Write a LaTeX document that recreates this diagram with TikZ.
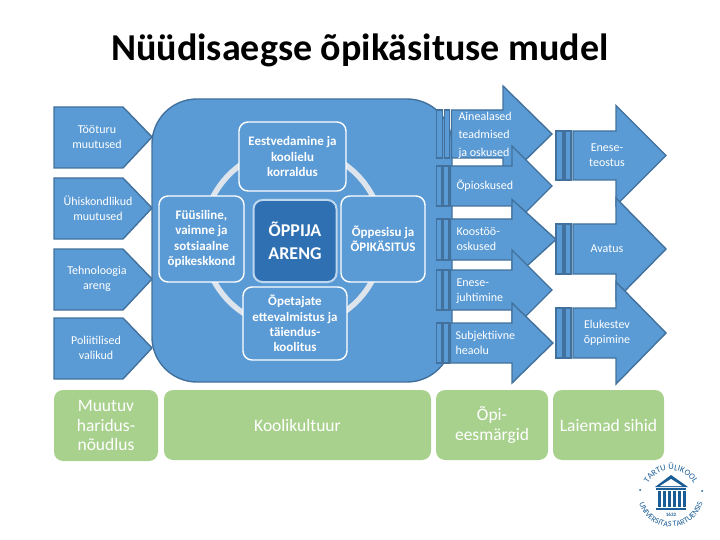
\documentclass[tikz,border=0pt]{standalone}
\usepackage{fontspec}
\setmainfont{Carlito}
\usepackage{xcolor}
\usetikzlibrary{decorations.text}
\definecolor{bodyblue}{RGB}{91, 155, 213}
\definecolor{edgeblue}{RGB}{65, 113, 156}
\definecolor{coreblue}{RGB}{46, 112, 178}
\definecolor{coreedge}{RGB}{189, 215, 238}
\definecolor{ringgray}{RGB}{222, 228, 236}
\definecolor{softgreen}{RGB}{169, 209, 142}
\definecolor{sealblue}{RGB}{26, 92, 150}

% arrow with two bars: bar space, x start, shaft top, shaft bottom, head x, head half height, tip x
\newcommand{\stripedarrow}[7][17]{%
  \pgfmathsetmacro{\midy}{(#3+#4)/2}
  \draw[shapeline] (#2,#3) rectangle (#2+0.4*#1,#4);
  \draw[shapeline] (#2+0.52*#1,#3) rectangle (#2+0.88*#1,#4);
  \draw[shapeline] (#2+#1,#3) -- (#5,#3) -- (#5,\midy-#6) -- (#7,\midy)
    -- (#5,\midy+#6) -- (#5,#4) -- (#2+#1,#4) -- cycle;
}
% box on the left: top y
\newcommand{\pushbox}[1]{%
  \draw[shapeline] (54,#1) -- (123,#1) -- (152,#1+30) -- (123,#1+61) -- (54,#1+61) -- cycle;
}

\begin{document}
\begin{tikzpicture}[
    x=1pt, y=-1pt,
    shapeline/.style={draw=edgeblue, line width=1.4pt, fill=bodyblue},
    smalltext/.style={text=white, font=\fontsize{12}{15}\selectfont, align=center},
    ringbox/.style={rectangle, draw=white, line width=1.4pt, fill=bodyblue,
                    rounded corners=9pt, text=white, align=center,
                    font=\fontsize{13}{15.3}\selectfont\bfseries},
    greenbox/.style={rectangle, fill=softgreen, rounded corners=9pt, text=white,
                     align=center, font=\fontsize{17.5}{19.5}\selectfont}
]
\useasboundingbox (0,0) rectangle (720,540);

% Title
\node[font=\fontsize{38}{40}\selectfont\bfseries] (title) at (360,50) {Nüüdisaegse õpikäsituse mudel};

% Left side
\pushbox{107}
\pushbox{178}
\pushbox{249}
\pushbox{318}

% Body
\draw[shapeline, rounded corners=45pt] (152,99) rectangle (452,382);
\draw[ringgray, line width=5.5pt] (293,238) circle (90);

% Right side
\stripedarrow[15]{436.5}{110}{158}{503}{48}{552}
\stripedarrow[14]{436.5}{166}{206}{512}{40}{552}
\stripedarrow[14]{436.5}{219}{260}{512}{40}{556}
\stripedarrow[14]{436.5}{270}{310}{512}{40}{552}
\stripedarrow[14]{436.5}{323}{363}{512}{40}{553}
\stripedarrow{556}{131}{180}{616}{50}{666}
\stripedarrow{556}{224}{274}{616}{51}{666}
\stripedarrow{556}{308}{358}{616}{51}{666}

% Ring of boxes
\node[ringbox, minimum width=107pt, minimum height=69pt] (lead) at (292.5,156.5) {Eestvedamine ja\\koolielu\\korraldus};
\node[ringbox, minimum width=85pt, minimum height=86pt] (space) at (201.5,239) {Füüsiline,\\vaimne ja\\sotsiaalne\\õpikeskkond};
\node[ringbox, minimum width=84pt, minimum height=86pt, font=\fontsize{13}{15}\selectfont\bfseries] (content) at (383,239) {Õppesisu ja\\ÕPIKÄSITUS};
\node[ringbox, minimum width=104pt, minimum height=73pt] (teachers) at (295,323.5) {Õpetajate\\ettevalmistus ja\\täiendus-\\koolitus};
\node[ringbox, draw=coreedge, fill=coreblue, line width=2pt, minimum width=83pt, minimum height=82pt,
      font=\fontsize{18}{23}\selectfont\bfseries] (core) at (295,241) {ÕPPIJA\\ARENG};

% Left labels
\node[smalltext] (jobs) at (97,137) {Tööturu\\muutused};
\node[smalltext] (society) at (98,208) {Ühiskondlikud\\muutused};
\node[smalltext] (tech) at (97,279) {Tehnoloogia\\areng};
\node[smalltext] (policy) at (96,348) {Poliitilised\\valikud};

% Right labels
\node[smalltext, align=left, anchor=west] (subject) at (455,135) {Ainealased\\[3pt]teadmised\\[3pt]ja oskused};
\node[smalltext, align=left, anchor=west] (study) at (453,186) {Õpioskused};
\node[smalltext, align=left, anchor=west] (collab) at (453,239) {Koostöö-\\oskused};
\node[smalltext, align=left, anchor=west] (selfdir) at (453,291) {Enese-\\juhtimine};
\node[smalltext, align=left, anchor=west] (wellbeing) at (452,343) {Subjektiivne\\heaolu};
\node[smalltext] (selfreal) at (607,155) {Enese-\\teostus};
\node[smalltext] (open) at (607,249) {Avatus};
\node[smalltext] (lifelong) at (607,333) {Elukestev\\õppimine};

% Green row
\node[greenbox, minimum width=104pt, minimum height=71pt] (demand) at (106,425.5) {Muutuv\\haridus-\\nõudlus};
\node[greenbox, minimum width=267pt, minimum height=70pt] (culture) at (297.5,425) {Koolikultuur};
\node[greenbox, minimum width=112pt, minimum height=70pt] (goals) at (492,425) {Õpi-\\eesmärgid};
\node[greenbox, minimum width=111pt, minimum height=70pt] (aims) at (608.5,425) {Laiemad sihid};

% Seal
\fill[sealblue] (671,475) -- (688,487) -- (655,487) -- cycle;
\fill[white] (671,479) -- (682,486) -- (660,486) -- cycle;
\fill[sealblue] (656,488) rectangle (686,490);
\foreach \colx in {659,664,669,674,679,684} {
  \fill[sealblue] (\colx-1.5,491) rectangle (\colx+1.5,507);
}
\fill[sealblue] (656,507.5) rectangle (686,510);
\fill[sealblue] (640,490) circle (1);
\fill[sealblue] (702,491) circle (1);
\node[text=sealblue, font=\fontsize{5}{5}\selectfont\bfseries] (year) at (671,514.5) {1632};
\path[postaction={decorate, decoration={text along path, text align=center,
      text={|\fontsize{8.5}{8.5}\selectfont\color{sealblue}|TARTU ÜLIKOOL}}}]
  (645,496) arc[start angle=180, end angle=360, radius=26];
\path[postaction={decorate, decoration={text along path, text align=center,
      text={|\fontsize{8}{8}\selectfont\color{sealblue}|UNIVERSITAS TARTUENSIS}}}]
  (638,494) arc[start angle=180, end angle=0, radius=33];
\end{tikzpicture}
\end{document}
